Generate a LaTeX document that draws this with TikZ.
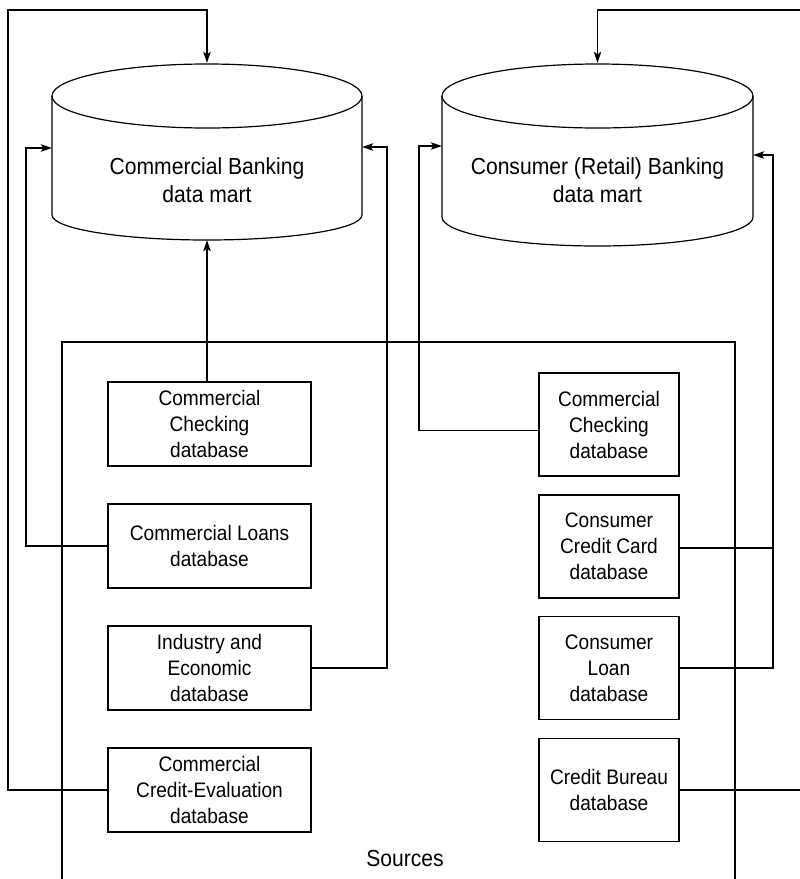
\documentclass[tikz,border=0pt]{standalone}
\usepackage{fontspec}
\newfontfamily\labfont{Liberation Sans}[FakeStretch=0.91]
\usetikzlibrary{arrows.meta}
\begin{document}
\begin{tikzpicture}[x=1pt,y=-1pt,
  ln/.style={line width=1.2pt},
  arr/.style={ln,-{Stealth[length=11pt,width=7.5pt,inset=2.5pt]}},
  boxfont/.style={font=\labfont\fontsize{21}{26}\selectfont},
  bigfont/.style={font=\labfont\fontsize{23.2}{28.5}\selectfont},
  lbox/.style={draw,ln,boxfont,align=center,inner sep=0pt,minimum width=203pt,minimum height=84pt},
  rbox/.style={draw,ln,boxfont,align=center,inner sep=0pt,minimum width=140pt,minimum height=103pt},
  body/.style={inner sep=0pt,draw=none}]
\useasboundingbox (0,0) rectangle (800,879);

% ---- cylinders ----
\draw[ln] (207,96) ellipse[x radius=155pt,y radius=32pt];
\draw[ln] (52,96) -- (52,215) arc[start angle=180,end angle=360,x radius=155pt,y radius=25pt] -- (362,96);
\node[body,minimum width=310pt,minimum height=177pt] (cbm) at (207,151.5) {};
\node[bigfont,align=center] (cbmtext) at (207,180) {Commercial Banking\\data mart};

\draw[ln] (597.5,96) ellipse[x radius=155.5pt,y radius=32pt];
\draw[ln] (442,96) -- (442,217) arc[start angle=180,end angle=360,x radius=155.5pt,y radius=29pt] -- (753,96);
\node[body,minimum width=311pt,minimum height=183pt] (rbm) at (597.5,154.5) {};
\node[bigfont,align=center] (rbmtext) at (597.5,180) {Consumer (Retail) Banking\\data mart};

% ---- sources frame ----
\coordinate (fbl) at (62,890);
\coordinate (ftl) at (62,342);
\coordinate (ftr) at (735,342);
\coordinate (fbr) at (735,890);
\draw[ln] (fbl) -- (ftl) -- (ftr) -- (fbr);
\node[bigfont] (src) at (405,859) {Sources};

% ---- left boxes ----
\node[lbox] (cc)  at (209.5,424) {Commercial\\Checking\\database};
\node[lbox] (cl)  at (209.5,546) {Commercial Loans\\database};
\node[lbox] (ie)  at (209.5,668) {Industry and\\Economic\\database};
\node[lbox] (cce) at (209.5,790) {Commercial\\Credit-Evaluation\\database};

% ---- right boxes ----
\node[rbox] (rcc) at (609,424.5) {Commercial\\Checking\\database};
\node[rbox] (ccc) at (609,546.5) {Consumer\\Credit Card\\database};
\node[rbox] (cln) at (609,668)   {Consumer\\Loan\\database};
\node[rbox] (cbd) at (609,790)   {Credit Bureau\\database};

% ---- connectors, left mart ----
\draw[arr] (cc.north -| cbm.south) -- (cbm.south);
\coordinate (l1) at (8,790);
\coordinate (l2) at (8,10);
\draw[arr] (cce.west) -- (l1) -- (l2) -- (l2 -| cbm.north) -- (cbm.north);
\coordinate (l3) at (26,546);
\coordinate (l4) at (26,148);
\draw[arr] (cl.west) -- (l3) -- (l4) -- (l4 -| cbm.west);
\coordinate (l5) at (387,668);
\coordinate (l6) at (387,147);
\draw[arr] (ie.east) -- (l5) -- (l6) -- (l6 -| cbm.east);

% ---- connectors, right mart ----
\coordinate (r1) at (806,790);
\coordinate (r2) at (806,10);
\draw[arr] (cbd.east) -- (r1) -- (r2) -- (r2 -| rbm.north) -- (rbm.north);
\coordinate (r3) at (419,430.5);
\coordinate (r4) at (419,146);
\draw[arr] (r3 -| rcc.west) -- (r3) -- (r4) -- (r4 -| rbm.west);
\coordinate (r5) at (773,668);
\coordinate (r6) at (773,155);
\draw[arr] (cln.east) -- (r5) -- (r6) -- (r6 -| rbm.east);
\coordinate (r7) at (773,548);
\draw[ln] (ccc.east |- r7) -- (r7);
\end{tikzpicture}
\end{document}
